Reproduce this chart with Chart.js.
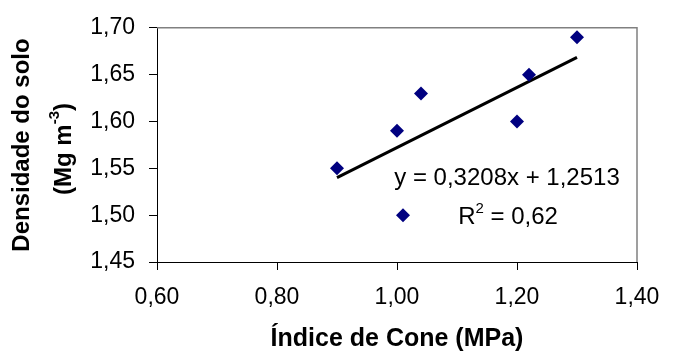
<!DOCTYPE html>
<html>
<head>
<meta charset="utf-8">
<title>Densidade do solo x Índice de Cone</title>
<script src="https://cdn.jsdelivr.net/npm/chart.js"></script>
<style>
  html, body { margin: 0; padding: 0; background: #fff; }
  #wrap { width: 696px; height: 358px; }
</style>
</head>
<body>
<div id="wrap"><canvas id="chart"></canvas></div>
<script>
// Índice de cone (MPa) e densidade do solo (Mg m-3)
const indiceCone = [0.90, 1.00, 1.04, 1.01, 1.20, 1.22, 1.30];
const densidade  = [1.55, 1.59, 1.63, 1.50, 1.60, 1.65, 1.69];

// linha de tendência: y = a x + b
const coefA = 0.3208;
const coefB = 1.2513;
const r2 = 0.62;

const xTicks = [0.60, 0.80, 1.00, 1.20, 1.40];
const yTicks = [1.45, 1.50, 1.55, 1.60, 1.65, 1.70];

const FONT = "'Liberation Sans', Arial, sans-serif";
const fmt = (v, d) => v.toFixed(d).replace('.', ',');

const xMin = Math.min(...indiceCone);
const xMax = Math.max(...indiceCone);
const trend = [xMin, xMax].map(x => ({ x: x, y: coefA * x + coefB }));

// texto em pedaços, para poder ter sobrescrito
function drawRuns(ctx, runs, cx, baseY) {
    let total = 0;
    runs.forEach(r => { ctx.font = r.font; r.w = ctx.measureText(r.text).width; total += r.w; });
    let x = cx - total / 2;
    ctx.textAlign = 'left';
    ctx.textBaseline = 'alphabetic';
    runs.forEach(r => {
        ctx.font = r.font;
        ctx.fillText(r.text, x, baseY - (r.rise || 0));
        x += r.w;
    });
}

const extras = {
    id: 'extras',
    beforeDatasetsDraw(chart) {
        // moldura cinza em cima e à direita
        const { ctx, chartArea: a } = chart;
        ctx.save();
        ctx.strokeStyle = '#808080';
        ctx.lineWidth = 1.5;
        ctx.beginPath();
        ctx.moveTo(a.left, a.top);
        ctx.lineTo(a.right, a.top);
        ctx.lineTo(a.right, a.bottom);
        ctx.stroke();
        ctx.restore();
    },
    afterDraw(chart) {
        const ctx = chart.ctx;
        ctx.save();
        ctx.fillStyle = '#000';

        // equação da reta e R²
        drawRuns(ctx, [{ text: 'y = ' + fmt(coefA, 4) + 'x + ' + fmt(coefB, 4), font: '24px ' + FONT }], 507, 185);
        drawRuns(ctx, [
            { text: 'R', font: '24px ' + FONT },
            { text: '2', font: '15px ' + FONT, rise: 11 },
            { text: ' = ' + fmt(r2, 2), font: '24px ' + FONT }
        ], 508, 224);

        // título do eixo y, duas linhas
        ctx.save();
        ctx.translate(28.5, 145);
        ctx.rotate(-Math.PI / 2);
        drawRuns(ctx, [{ text: 'Densidade do solo', font: 'bold 24px ' + FONT }], 0, 0);
        ctx.restore();

        ctx.save();
        ctx.translate(71, 149);
        ctx.rotate(-Math.PI / 2);
        drawRuns(ctx, [
            { text: '(Mg m', font: 'bold 24px ' + FONT },
            { text: '-3', font: 'bold 15px ' + FONT, rise: 12 },
            { text: ')', font: 'bold 24px ' + FONT }
        ], 0, 0);
        ctx.restore();

        ctx.restore();
    }
};

new Chart(document.getElementById('chart'), {
    type: 'scatter',
    data: {
        datasets: [
            {
                label: 'Densidade',
                data: indiceCone.map((x, i) => ({ x: x, y: densidade[i] })),
                pointStyle: 'rectRot',
                pointRadius: 7,
                pointHoverRadius: 7,
                backgroundColor: '#000080',
                borderColor: '#000080',
                borderWidth: 0
            },
            {
                label: 'Tendência',
                type: 'line',
                data: trend,
                borderColor: '#000',
                borderWidth: 3,
                pointRadius: 0,
                fill: false
            }
        ]
    },
    options: {
        responsive: true,
        maintainAspectRatio: false,
        animation: false,
        layout: { padding: { top: 26, right: 59, bottom: 0, left: 0 } },
        plugins: { legend: { display: false }, tooltip: { enabled: false } },
        scales: {
            x: {
                type: 'linear',
                min: 0.6,
                max: 1.4,
                afterBuildTicks: s => { s.ticks = xTicks.map(v => ({ value: v })); },
                afterFit: s => { s.height = 96; },
                grid: { drawOnChartArea: false, drawTicks: true, tickLength: 8, tickColor: '#000' },
                border: { color: '#000', width: 1 },
                ticks: {
                    color: '#000',
                    padding: 14,
                    font: { family: FONT, size: 23 },
                    callback: v => fmt(v, 2)
                },
                title: {
                    display: true,
                    text: 'Índice de Cone (MPa)',
                    color: '#000',
                    padding: { top: 0, bottom: 4 },
                    font: { family: FONT, size: 25, weight: 'bold' }
                }
            },
            y: {
                type: 'linear',
                min: 1.45,
                max: 1.70,
                afterBuildTicks: s => { s.ticks = yTicks.map(v => ({ value: v })); },
                afterFit: s => { s.width = 157; },
                grid: { drawOnChartArea: false, drawTicks: true, tickLength: 8, tickColor: '#000' },
                border: { color: '#000', width: 1 },
                ticks: {
                    color: '#000',
                    padding: 14,
                    font: { family: FONT, size: 23 },
                    callback: v => fmt(v, 2)
                }
            }
        }
    },
    plugins: [extras]
});
</script>
</body>
</html>
